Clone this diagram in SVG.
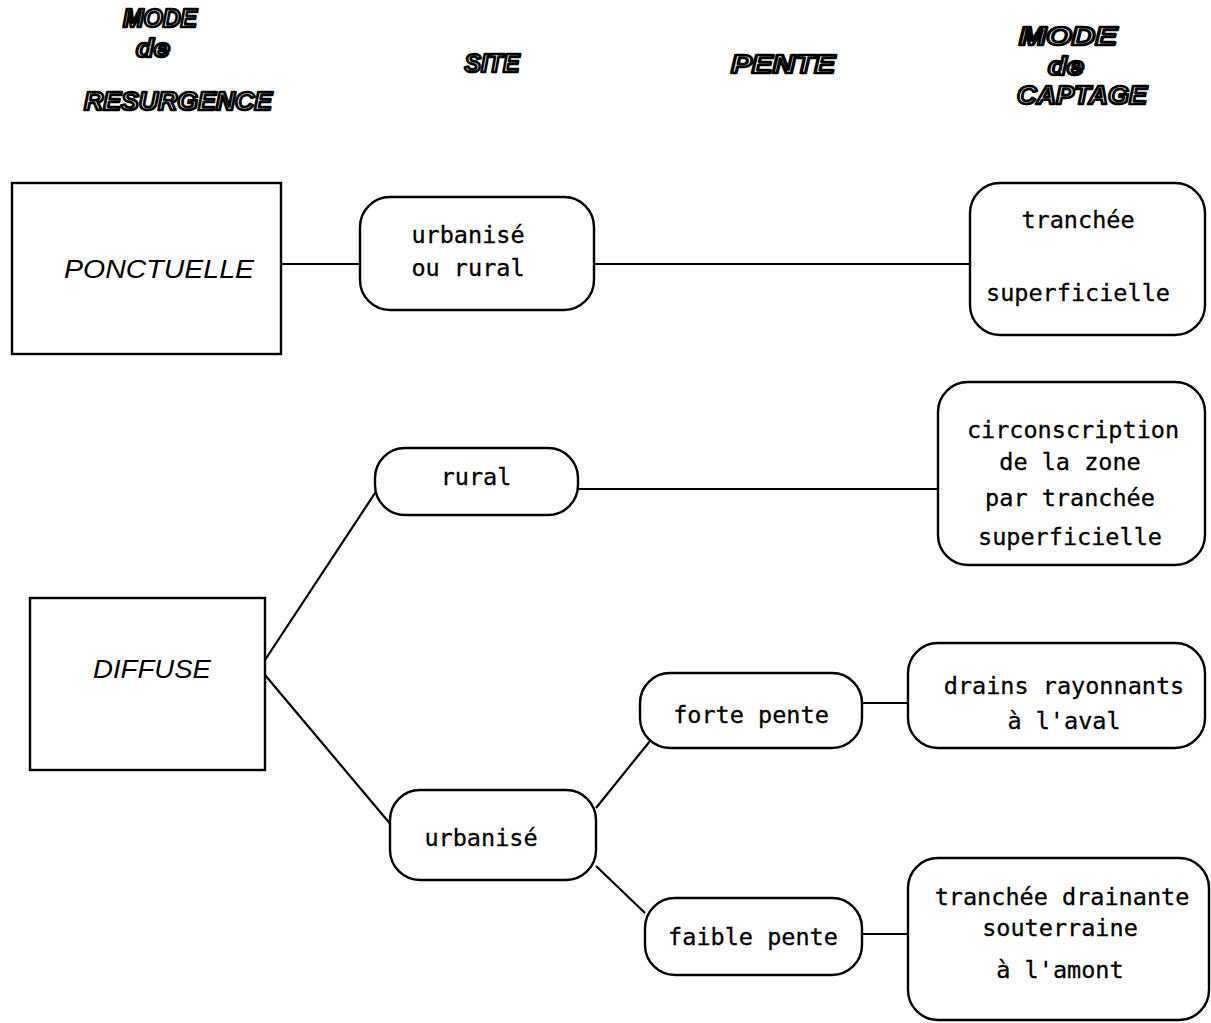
<svg xmlns="http://www.w3.org/2000/svg" width="1211" height="1023" viewBox="0 0 1211 1023">
<style>
.hdr{font-family:"Liberation Sans",Arial,sans-serif;font-weight:bold;font-style:italic;font-size:25px;fill:#fff;stroke:#000;stroke-width:2.6px;text-anchor:middle;stroke-linejoin:round}
.box{fill:#fff;stroke:#000;stroke-width:2.4}
.big{font-family:"Liberation Sans",Arial,sans-serif;font-style:italic;font-size:26px;text-anchor:middle;fill:#000}
.t{font-family:"DejaVu Sans Mono",monospace;font-size:23.5px;text-anchor:middle;fill:#000;stroke:#000;stroke-width:0.3px}
.c line{stroke:#000;stroke-width:2.2}
</style>
<rect width="1211" height="1023" fill="#fff"/>
<g id="headers">
<text class="hdr" x="160" y="27" textLength="74" lengthAdjust="spacingAndGlyphs">MODE</text>
<text class="hdr" x="153" y="57" textLength="34" lengthAdjust="spacingAndGlyphs">de</text>
<text class="hdr" x="178" y="110" textLength="188" lengthAdjust="spacingAndGlyphs">RESURGENCE</text>
<text class="hdr" x="492" y="72" textLength="55" lengthAdjust="spacingAndGlyphs">SITE</text>
<text class="hdr" x="783" y="73" textLength="104" lengthAdjust="spacingAndGlyphs">PENTE</text>
<text class="hdr" x="1068" y="45" textLength="98" lengthAdjust="spacingAndGlyphs">MODE</text>
<text class="hdr" x="1066" y="75" textLength="36" lengthAdjust="spacingAndGlyphs">de</text>
<text class="hdr" x="1082" y="104" textLength="130" lengthAdjust="spacingAndGlyphs">CAPTAGE</text>
</g>
<g id="connectors" class="c">
<line x1="281" y1="264" x2="360" y2="264"/>
<line x1="594" y1="264" x2="970" y2="264"/>
<line x1="578" y1="489" x2="938" y2="489"/>
<line x1="265" y1="660" x2="377" y2="490"/>
<line x1="265" y1="675" x2="392" y2="826"/>
<line x1="596" y1="808" x2="650" y2="741"/>
<line x1="596" y1="866" x2="645" y2="913"/>
<line x1="862" y1="703" x2="908" y2="703"/>
<line x1="862" y1="934" x2="908" y2="934"/>
</g>
<g id="ponctuelle">
<rect class="box" x="12" y="183" width="269" height="171"/>
<text class="big" x="159" y="278" textLength="190" lengthAdjust="spacingAndGlyphs">PONCTUELLE</text>
</g>
<g id="urbanise-ou-rural">
<rect class="box" x="360" y="197" width="234" height="113" rx="30"/>
<text class="t" x="468" y="243">urbanisé</text>
<text class="t" x="468" y="276">ou rural</text>
</g>
<g id="tranchee-superficielle">
<rect class="box" x="970" y="183" width="235" height="152" rx="30"/>
<text class="t" x="1078" y="228">tranchée</text>
<text class="t" x="1078" y="301">superficielle</text>
</g>
<g id="diffuse">
<rect class="box" x="30" y="598" width="235" height="172"/>
<text class="big" x="152" y="678" textLength="118" lengthAdjust="spacingAndGlyphs">DIFFUSE</text>
</g>
<g id="rural">
<rect class="box" x="375" y="448" width="203" height="67" rx="30"/>
<text class="t" x="476" y="485">rural</text>
</g>
<g id="circonscription">
<rect class="box" x="938" y="382" width="267" height="183" rx="30"/>
<text class="t" x="1073" y="438">circonscription</text>
<text class="t" x="1070" y="470">de la zone</text>
<text class="t" x="1070" y="506">par tranchée</text>
<text class="t" x="1070" y="545">superficielle</text>
</g>
<g id="urbanise">
<rect class="box" x="390" y="790" width="206" height="90" rx="30"/>
<text class="t" x="481" y="846">urbanisé</text>
</g>
<g id="forte-pente">
<rect class="box" x="640" y="673" width="222" height="75" rx="30"/>
<text class="t" x="751" y="723">forte pente</text>
</g>
<g id="drains">
<rect class="box" x="908" y="643" width="297" height="105" rx="30"/>
<text class="t" x="1064" y="694">drains rayonnants</text>
<text class="t" x="1064" y="729">à l'aval</text>
</g>
<g id="faible-pente">
<rect class="box" x="645" y="898" width="217" height="77" rx="30"/>
<text class="t" x="753" y="945">faible pente</text>
</g>
<g id="tranchee-drainante">
<rect class="box" x="908" y="858" width="301" height="162" rx="30"/>
<text class="t" x="1062" y="905">tranchée drainante</text>
<text class="t" x="1060" y="936">souterraine</text>
<text class="t" x="1060" y="978">à l'amont</text>
</g>
</svg>
